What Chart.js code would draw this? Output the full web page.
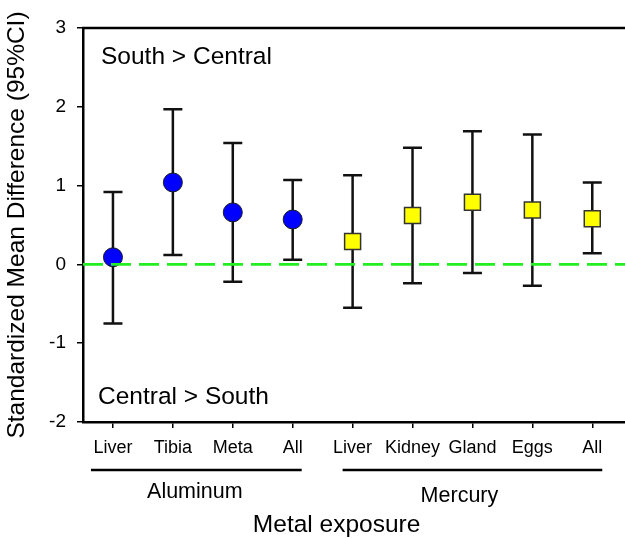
<!DOCTYPE html>
<html>
<head>
<meta charset="utf-8">
<title>Standardized Mean Difference</title>
<script src="https://cdn.jsdelivr.net/npm/chart.js@4.4.1/dist/chart.umd.min.js"></script>
<style>
  html, body { margin: 0; padding: 0; background: #fff; overflow: hidden; }
  #wrap { width: 625px; height: 538px; overflow: hidden; }
</style>
</head>
<body>
<div id="wrap"><canvas id="myChart" width="650" height="538"></canvas></div>
<script>
// Category labels along the x axis
var categories = ["Liver", "Tibia", "Meta", "All", "Liver", "Kidney", "Gland", "Eggs", "All"];

// Aluminum: positions on the axis, means and 95% CI
var aluminumPos = [0, 1, 2, 3];
var aluminumMean = [0.09, 1.04, 0.66, 0.57];
var aluminumLow = [-0.75, 0.12, -0.22, 0.06];
var aluminumHigh = [0.92, 1.97, 1.54, 1.07];

// Mercury: positions on the axis, means and 95% CI
var mercuryPos = [4, 5, 6, 7, 8];
var mercuryMean = [0.29, 0.62, 0.79, 0.69, 0.58];
var mercuryLow = [-0.55, -0.24, -0.11, -0.27, 0.14];
var mercuryHigh = [1.13, 1.48, 1.69, 1.65, 1.04];

// Y axis ticks
var yTicks = [-2, -1, 0, 1, 2, 3];

// Group brackets under the axis
var groupNames = ["Aluminum", "Mercury"];
var groupFrom = [0, 4];
var groupTo = [3, 8];

var font = "'Liberation Sans', Arial, sans-serif";

function toPoints(pos, vals) {
    return pos.map(function (p, i) { return { x: p, y: vals[i] }; });
}

// Error bars drawn behind the markers
const errorBars = {
    id: "errorBars",
    beforeDatasetsDraw(chart) {
        const ctx = chart.ctx;
        const x = chart.scales.x, y = chart.scales.y;
        const sets = [
            [aluminumPos, aluminumLow, aluminumHigh],
            [mercuryPos, mercuryLow, mercuryHigh]
        ];
        ctx.save();
        ctx.strokeStyle = "#111";
        ctx.lineWidth = 2.5;
        sets.forEach(function (s) {
            s[0].forEach(function (p, i) {
                const px = x.getPixelForValue(p);
                const lo = y.getPixelForValue(s[1][i]);
                const hi = y.getPixelForValue(s[2][i]);
                ctx.beginPath();
                ctx.moveTo(px, lo); ctx.lineTo(px, hi);
                ctx.moveTo(px - 9.5, lo); ctx.lineTo(px + 9.5, lo);
                ctx.moveTo(px - 9.5, hi); ctx.lineTo(px + 9.5, hi);
                ctx.stroke();
            });
        });
        ctx.restore();
    }
};

// Zero line, frame top, annotations and group brackets
const extras = {
    id: "extras",
    afterDatasetsDraw(chart) {
        const ctx = chart.ctx;
        const area = chart.chartArea;
        const y0 = chart.scales.y.getPixelForValue(0);
        ctx.save();
        ctx.strokeStyle = "#22ee22";
        ctx.lineWidth = 2.8;
        ctx.setLineDash([20, 8]);
        ctx.beginPath();
        ctx.moveTo(area.left, y0);
        ctx.lineTo(area.right, y0);
        ctx.stroke();
        ctx.restore();
    },
    afterDraw(chart) {
        const ctx = chart.ctx;
        const area = chart.chartArea;
        const x = chart.scales.x;
        ctx.save();
        // top border of the frame
        ctx.strokeStyle = "#000";
        ctx.lineWidth = 2.5;
        ctx.beginPath();
        ctx.moveTo(area.left - 1, area.top);
        ctx.lineTo(area.right, area.top);
        ctx.stroke();

        // annotations inside the plot
        ctx.fillStyle = "#000";
        ctx.textBaseline = "middle";
        ctx.textAlign = "left";
        ctx.font = "24.5px " + font;
        ctx.fillText("South > Central", area.left + 18, area.top + 29);
        ctx.fillText("Central > South", area.left + 15, area.bottom - 25);

        // group brackets
        ctx.lineWidth = 2.3;
        ctx.font = "21.5px " + font;
        ctx.textAlign = "center";
        const labelShift = [-8, -13];
        const labelDrop = [70, 74];
        groupNames.forEach(function (name, i) {
            const a = x.getPixelForValue(groupFrom[i]) - (i === 0 ? 22 : 10);
            const b = x.getPixelForValue(groupTo[i]) + (i === 0 ? 9 : 10);
            ctx.beginPath();
            ctx.moveTo(a, area.bottom + 48);
            ctx.lineTo(b, area.bottom + 48);
            ctx.stroke();
            const mid = x.getPixelForValue((groupFrom[i] + groupTo[i]) / 2) + labelShift[i];
            ctx.fillText(name, mid, area.bottom + labelDrop[i]);
        });

        // x axis title
        ctx.font = "24.5px " + font;
        ctx.fillText("Metal exposure", x.getPixelForValue(4) - 16, area.bottom + 103);
        ctx.restore();
    }
};

document.addEventListener("DOMContentLoaded", function () {
    const ctx = document.getElementById("myChart").getContext("2d");
    const myChart = new Chart(ctx, {
        type: "scatter",
        data: {
            datasets: [{
                label: "Aluminum",
                data: toPoints(aluminumPos, aluminumMean),
                pointStyle: "circle",
                pointRadius: 9.5,
                pointHoverRadius: 9.5,
                backgroundColor: "#0000ff",
                borderColor: "#1a1a1a",
                borderWidth: 1
            }, {
                label: "Mercury",
                data: toPoints(mercuryPos, mercuryMean),
                pointStyle: "rect",
                pointRadius: 11.3,
                pointHoverRadius: 11.3,
                backgroundColor: "#ffff00",
                borderColor: "#333",
                borderWidth: 1.5
            }]
        },
        options: {
            responsive: false,
            animation: false,
            devicePixelRatio: 1,
            layout: { padding: { top: 28, right: 6, left: 0, bottom: 0 } },
            plugins: {
                legend: { display: false },
                tooltip: { enabled: false }
            },
            scales: {
                x: {
                    type: "linear",
                    min: -0.5,
                    max: 8.75,
                    afterBuildTicks: function (axis) {
                        axis.ticks = categories.map(function (c, i) { return { value: i }; });
                    },
                    afterFit: function (scale) { scale.height = 116; },
                    ticks: {
                        autoSkip: false,
                        maxRotation: 0,
                        padding: 9,
                        color: "#000",
                        font: { family: font, size: 18 },
                        callback: function (value) { return categories[value]; }
                    },
                    grid: { drawOnChartArea: false, tickLength: 6, color: "#000", lineWidth: 1.5 },
                    border: { display: true, color: "#000", width: 2.5 }
                },
                y: {
                    min: -2,
                    max: 3,
                    afterBuildTicks: function (axis) {
                        axis.ticks = yTicks.map(function (v) { return { value: v }; });
                    },
                    afterFit: function (scale) { scale.width = 83; },
                    ticks: {
                        padding: 11,
                        color: "#000",
                        font: { family: font, size: 19 }
                    },
                    grid: { drawOnChartArea: false, tickLength: 6, color: "#000", lineWidth: 1.5 },
                    border: { display: true, color: "#000", width: 2.5 },
                    title: {
                        display: true,
                        text: "Standardized Mean Difference (95%CI)",
                        color: "#000",
                        font: { family: font, size: 24.5 },
                        padding: { top: 3, bottom: 0 }
                    }
                }
            }
        },
        plugins: [errorBars, extras]
    });
});
</script>
</body>
</html>
